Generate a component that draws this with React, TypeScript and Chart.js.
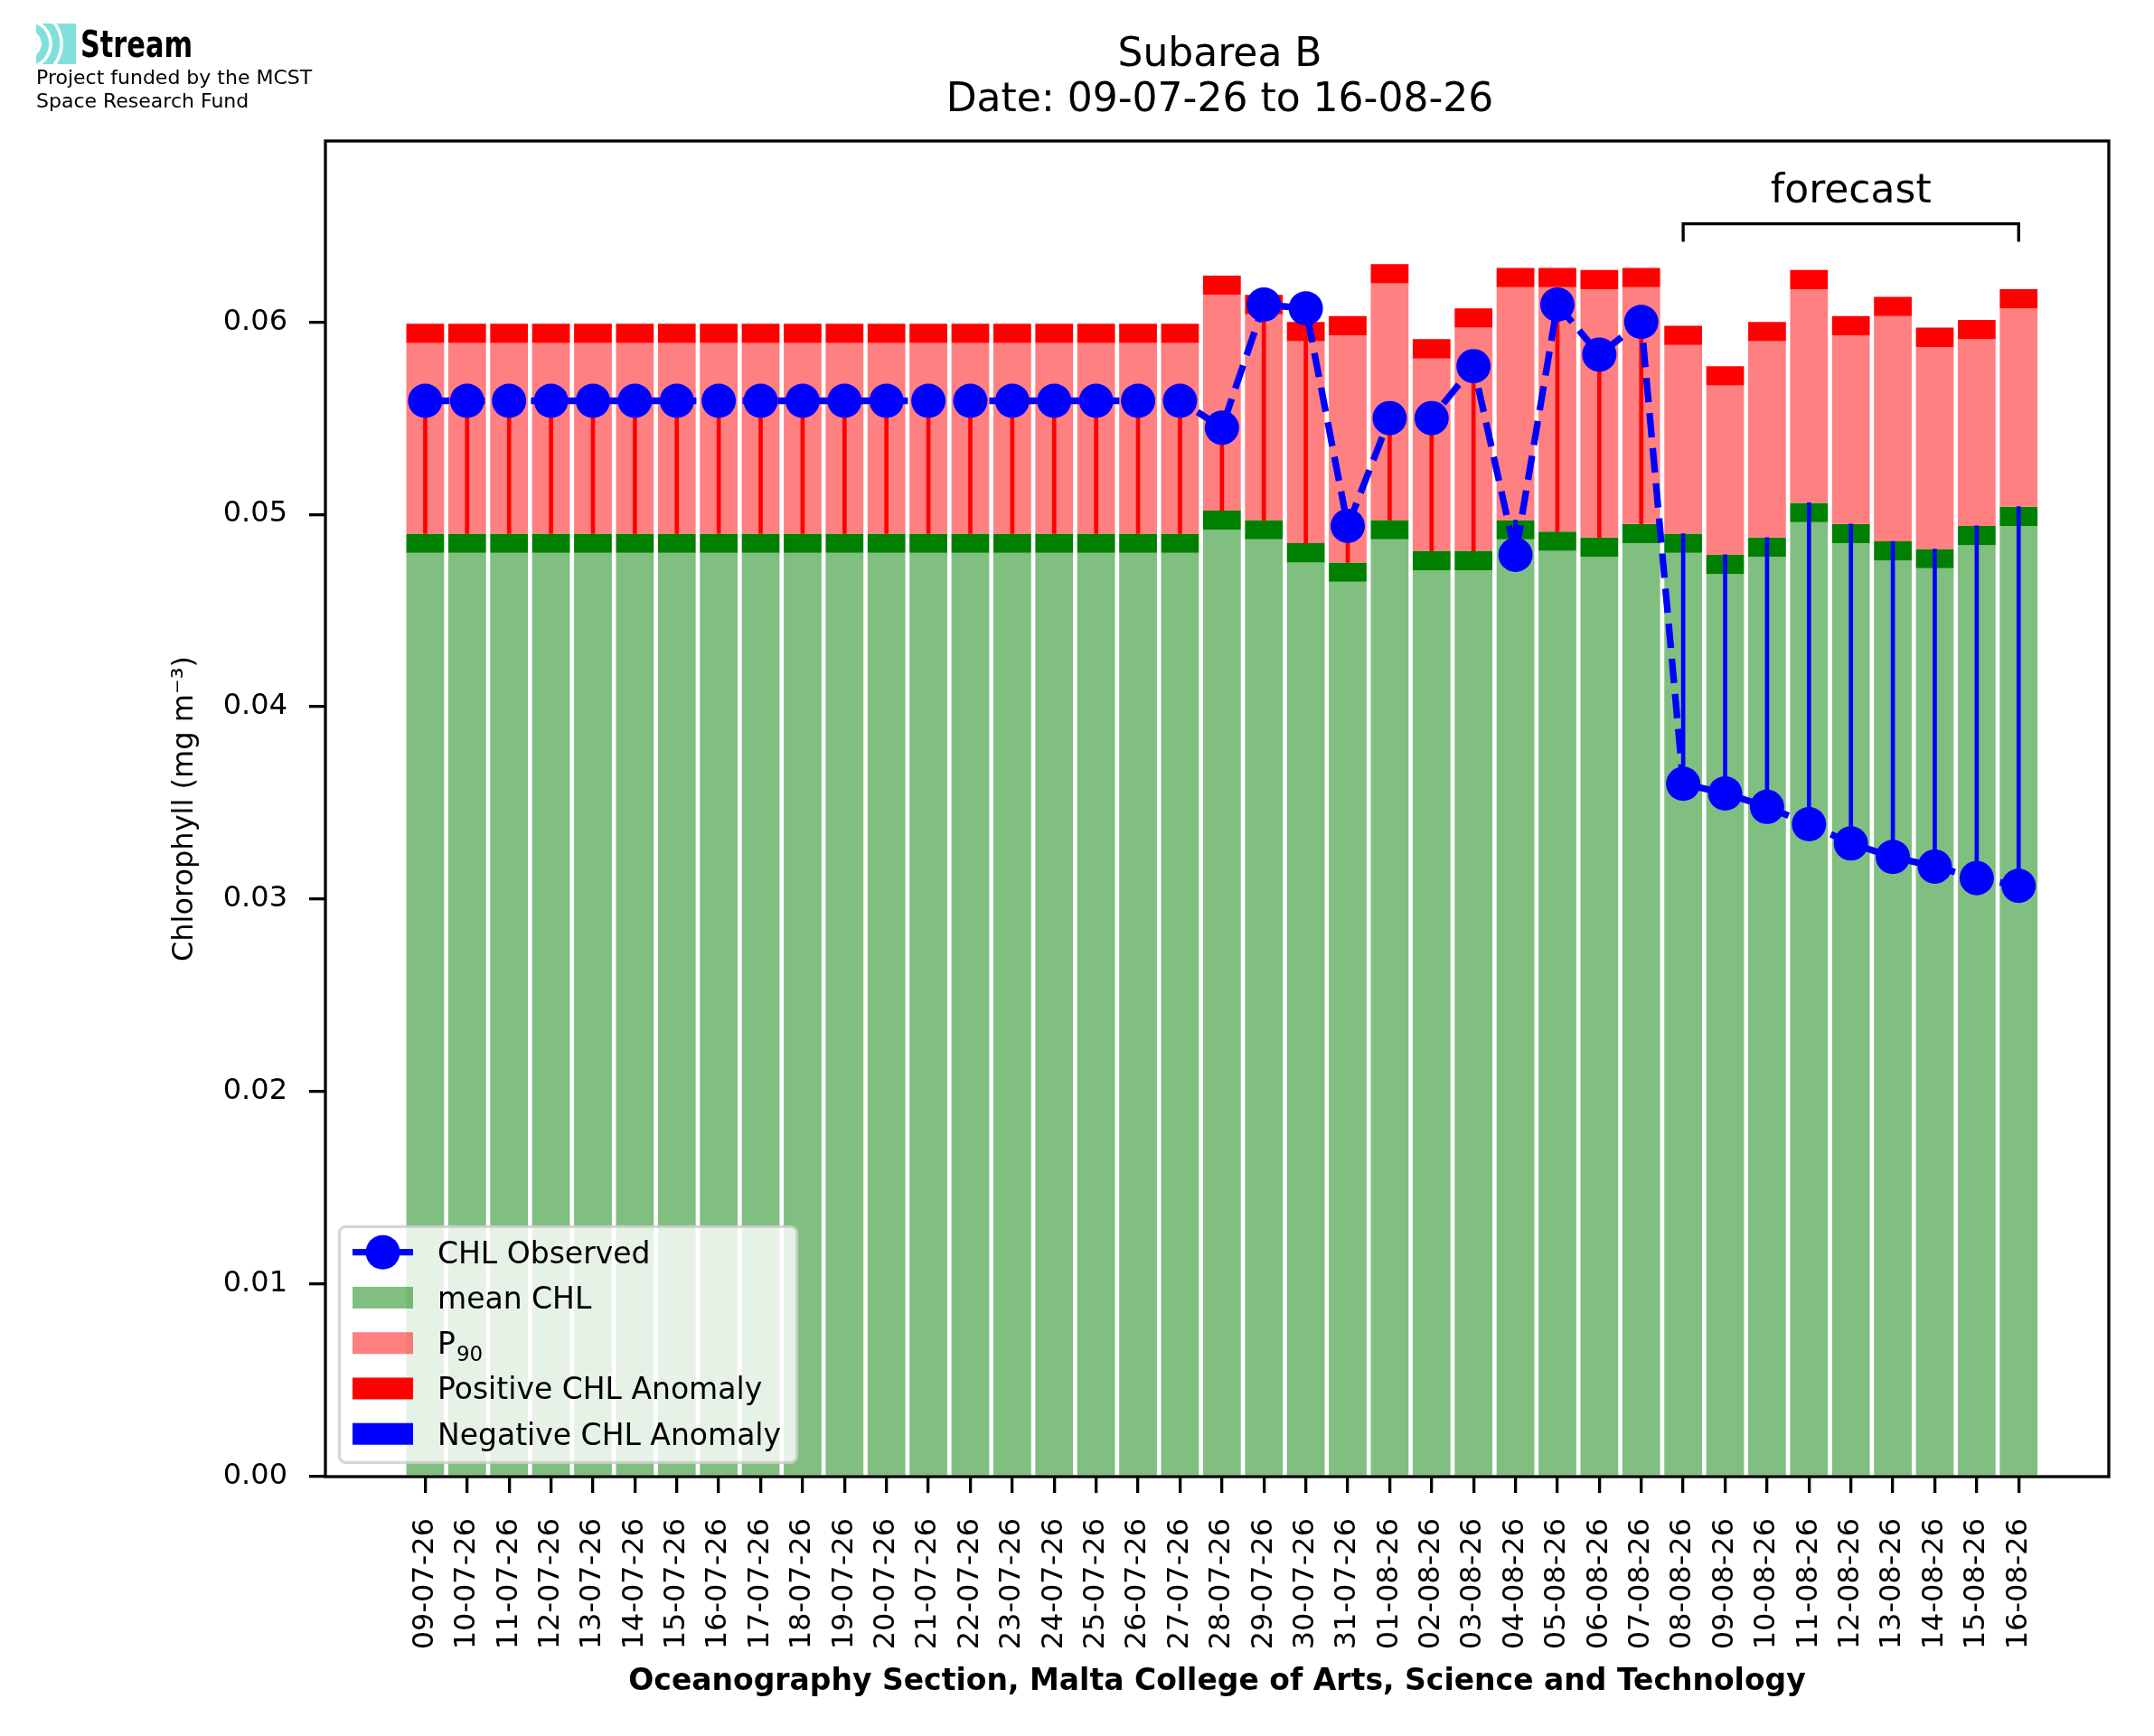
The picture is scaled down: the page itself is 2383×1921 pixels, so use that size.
import { useEffect, useRef } from 'react';
import { Chart, registerables } from 'chart.js';

Chart.register(...registerables);

const FONT = 'DejaVu Sans';

const dates = [
  '09-07-26', '10-07-26', '11-07-26', '12-07-26', '13-07-26', '14-07-26', '15-07-26',
  '16-07-26', '17-07-26', '18-07-26', '19-07-26', '20-07-26', '21-07-26', '22-07-26',
  '23-07-26', '24-07-26', '25-07-26', '26-07-26', '27-07-26', '28-07-26', '29-07-26',
  '30-07-26', '31-07-26', '01-08-26', '02-08-26', '03-08-26', '04-08-26', '05-08-26',
  '06-08-26', '07-08-26', '08-08-26', '09-08-26', '10-08-26', '11-08-26', '12-08-26',
  '13-08-26', '14-08-26', '15-08-26', '16-08-26',
];

// top of the light green bar
const meanChl = [
  0.0480, 0.0480, 0.0480, 0.0480, 0.0480, 0.0480, 0.0480, 0.0480, 0.0480, 0.0480,
  0.0480, 0.0480, 0.0480, 0.0480, 0.0480, 0.0480, 0.0480, 0.0480, 0.0480, 0.0492,
  0.0487, 0.0475, 0.0465, 0.0487, 0.0471, 0.0471, 0.0487, 0.0481, 0.0478, 0.0485,
  0.0480, 0.0469, 0.0478, 0.0496, 0.0485, 0.0476, 0.0472, 0.0484, 0.0494,
];

// top of the light red bar
const p90 = [
  0.0589, 0.0589, 0.0589, 0.0589, 0.0589, 0.0589, 0.0589, 0.0589, 0.0589, 0.0589,
  0.0589, 0.0589, 0.0589, 0.0589, 0.0589, 0.0589, 0.0589, 0.0589, 0.0589, 0.0614,
  0.0604, 0.0590, 0.0593, 0.0620, 0.0581, 0.0597, 0.0618, 0.0618, 0.0617, 0.0618,
  0.0588, 0.0567, 0.0590, 0.0617, 0.0593, 0.0603, 0.0587, 0.0591, 0.0607,
];

const observed = [
  0.0559, 0.0559, 0.0559, 0.0559, 0.0559, 0.0559, 0.0559, 0.0559, 0.0559, 0.0559,
  0.0559, 0.0559, 0.0559, 0.0559, 0.0559, 0.0559, 0.0559, 0.0559, 0.0559, 0.0545,
  0.0609, 0.0607, 0.0494, 0.0550, 0.0550, 0.0577, 0.0479, 0.0609, 0.0583, 0.0600,
  0.0360, 0.0355, 0.0348, 0.0339, 0.0329, 0.0322, 0.0317, 0.0311, 0.0307,
];

// thickness of the dark green / red bands sitting on mean and P90
const BAND = 0.001;
const FORECAST_START = '08-08-26';
const FORECAST_LEVEL = 0.0651;

const legendLabels = [
  { text: 'CHL Observed' },
  { text: 'mean CHL' },
  { text: 'P', sub: '90' },
  { text: 'Positive CHL Anomaly' },
  { text: 'Negative CHL Anomaly' },
];
const titleLines = ['Subarea B', `Date: ${dates[0]} to ${dates[dates.length - 1]}`];
const fundingLines = ['Project funded by the MCST', 'Space Research Fund'];

const threshold = meanChl.map(v => v + BAND);
const floating = (lo: (i: number) => number, hi: (i: number) => number) =>
  dates.map((_, i) => ({ x: i, y: [lo(i), hi(i)] }));

const decorPlugin = {
  id: 'decor',
  afterDatasetsDraw(chart: any) {
    const { ctx, chartArea: a, scales } = chart;
    ctx.save();
    ctx.strokeStyle = '#000';
    ctx.lineWidth = 3.3;
    ctx.strokeRect(a.left, a.top, a.right - a.left, a.bottom - a.top);

    // forecast bracket
    const x1 = scales.x.getPixelForValue(dates.indexOf(FORECAST_START));
    const x2 = scales.x.getPixelForValue(dates.length - 1);
    const y = scales.y.getPixelForValue(FORECAST_LEVEL);
    ctx.beginPath();
    ctx.moveTo(x1, y + 20);
    ctx.lineTo(x1, y);
    ctx.lineTo(x2, y);
    ctx.lineTo(x2, y + 20);
    ctx.stroke();
    ctx.fillStyle = '#000';
    ctx.font = `44px "${FONT}"`;
    ctx.textAlign = 'center';
    ctx.textBaseline = 'alphabetic';
    ctx.fillText('forecast', (x1 + x2) / 2, y - 24);
    ctx.restore();
  },
  afterDraw(chart: any) {
    const { ctx, chartArea: a } = chart;
    ctx.save();

    // title
    ctx.fillStyle = '#000';
    ctx.font = `44px "${FONT}"`;
    ctx.textAlign = 'center';
    ctx.textBaseline = 'alphabetic';
    titleLines.forEach((t, k) => ctx.fillText(t, (a.left + a.right) / 2 + 3, 73 + k * 50));

    // logo
    ctx.save();
    ctx.beginPath();
    ctx.rect(40, 26, 44, 45);
    ctx.clip();
    ctx.fillStyle = '#82e0dc';
    ctx.fillRect(40, 26, 44, 45);
    ctx.strokeStyle = '#fff';
    ctx.lineWidth = 3.5;
    [14, 26, 38].forEach(r => {
      ctx.beginPath();
      ctx.arc(30, 48.5, r, -1.3, 1.3);
      ctx.stroke();
    });
    ctx.fillStyle = '#fff';
    ctx.beginPath();
    ctx.moveTo(40, 43);
    ctx.lineTo(47, 48.5);
    ctx.lineTo(40, 54);
    ctx.closePath();
    ctx.fill();
    ctx.restore();

    ctx.textAlign = 'left';
    ctx.fillStyle = '#000';
    ctx.font = `bold 40px "${FONT}"`;
    const sw = ctx.measureText('Stream').width;
    ctx.save();
    ctx.translate(89, 63);
    ctx.scale(124 / sw, 1);
    ctx.fillText('Stream', 0, 0);
    ctx.restore();
    ctx.font = `22px "${FONT}"`;
    fundingLines.forEach((t, k) => ctx.fillText(t, 40, 93 + k * 26));

    // legend
    const w = 506;
    const h = 261;
    const lx = a.left + 15.5;
    const ly = a.bottom - 15.7 - h;
    ctx.beginPath();
    ctx.roundRect(lx, ly, w, h, 7);
    ctx.fillStyle = 'rgba(255,255,255,0.8)';
    ctx.fill();
    ctx.lineWidth = 3.3;
    ctx.strokeStyle = 'rgba(204,204,204,0.8)';
    ctx.stroke();

    const colors = ['#0000ff', 'rgba(0,128,0,0.5)', 'rgba(255,0,0,0.5)', '#ff0000', '#0000ff'];
    const hx = lx + 14.5;
    const hw = 67;
    legendLabels.forEach((label, k) => {
      const cy = ly + 28.4 + k * 50.25;
      if (k === 0) {
        ctx.strokeStyle = colors[0];
        ctx.lineWidth = 7.3;
        ctx.beginPath();
        ctx.moveTo(hx, cy);
        ctx.lineTo(hx + hw, cy);
        ctx.stroke();
        ctx.fillStyle = colors[0];
        ctx.beginPath();
        ctx.arc(hx + hw / 2, cy, 19, 0, Math.PI * 2);
        ctx.fill();
      } else {
        ctx.fillStyle = colors[k];
        ctx.fillRect(hx, cy - 12, hw, 24);
      }
      ctx.fillStyle = '#000';
      ctx.font = `33px "${FONT}"`;
      const tx = lx + 108.5;
      ctx.fillText(label.text, tx, cy + 12);
      if (label.sub) {
        const pw = ctx.measureText(label.text).width;
        ctx.font = `23px "${FONT}"`;
        ctx.fillText(label.sub, tx + pw + 1, cy + 20);
      }
    });
    ctx.restore();
  },
};

const ChlChart = () => {
  const canvasRef = useRef<HTMLCanvasElement | null>(null);
  const chartRef = useRef<Chart | null>(null);

  useEffect(() => {
    if (!canvasRef.current) return;
    if (chartRef.current) chartRef.current.destroy();

    const axisGrid = {
      display: true,
      drawOnChartArea: false,
      drawTicks: true,
      offset: false,
      tickLength: 18,
      color: '#000',
      lineWidth: 3.3,
    };

    chartRef.current = new Chart(canvasRef.current, {
      type: 'bar',
      data: {
        datasets: [
          {
            type: 'line',
            label: 'CHL Observed',
            data: dates.map((_, i) => ({ x: i, y: observed[i] })),
            borderColor: '#0000ff',
            backgroundColor: '#0000ff',
            borderWidth: 7.3,
            borderDash: [27, 12],
            borderCapStyle: 'butt',
            borderJoinStyle: 'round',
            pointRadius: 19,
            pointBorderWidth: 0,
            pointBackgroundColor: '#0000ff',
            tension: 0,
            order: 0,
          },
          {
            label: 'Positive CHL Anomaly',
            data: dates
              .map((_, i) => ({ x: i, y: [threshold[i], observed[i]] }))
              .filter((_, i) => observed[i] >= threshold[i]),
            backgroundColor: '#ff0000',
            barThickness: 4,
            grouped: false,
            order: 1,
          },
          {
            label: 'Negative CHL Anomaly',
            data: dates
              .map((_, i) => ({ x: i, y: [observed[i], threshold[i]] }))
              .filter((_, i) => observed[i] < threshold[i]),
            backgroundColor: '#0000ff',
            barThickness: 4,
            grouped: false,
            order: 1,
          },
          {
            label: 'P90 band',
            data: floating(i => p90[i], i => p90[i] + BAND),
            backgroundColor: '#ff0000',
            grouped: false,
            order: 2,
          },
          {
            label: 'P90',
            data: floating(i => threshold[i], i => p90[i]),
            backgroundColor: '#ff8080',
            grouped: false,
            order: 3,
          },
          {
            label: 'mean band',
            data: floating(i => meanChl[i], i => threshold[i]),
            backgroundColor: '#008000',
            grouped: false,
            order: 4,
          },
          {
            label: 'mean CHL',
            data: floating(() => 0, i => meanChl[i]),
            backgroundColor: '#80bf80',
            grouped: false,
            order: 5,
          },
        ] as any,
      },
      options: {
        responsive: false,
        animation: false,
        devicePixelRatio: 1,
        datasets: {
          bar: { barPercentage: 0.9, categoryPercentage: 1, borderWidth: 0 },
        },
        layout: { padding: { top: 156, right: 50, left: 0, bottom: 0 } },
        plugins: {
          legend: { display: false },
          tooltip: { enabled: false },
        },
        scales: {
          x: {
            type: 'linear',
            offset: false,
            min: -2.38,
            max: 40.15,
            afterBuildTicks: (scale: any) => {
              scale.ticks = dates.map((_, i) => ({ value: i }));
            },
            afterFit: (scale: any) => {
              scale.height = 287;
            },
            ticks: {
              autoSkip: false,
              maxRotation: 90,
              minRotation: 90,
              padding: 28,
              color: '#000',
              font: { family: FONT, size: 32 },
              callback: (v: any) => dates[v] ?? '',
            },
            grid: axisGrid,
            border: { display: false },
            title: {
              display: true,
              text: 'Oceanography Section, Malta College of Arts, Science and Technology',
              color: '#000',
              font: { family: FONT, size: 33, weight: 'bold' },
              padding: { top: 0, bottom: 40 },
            },
          },
          y: {
            min: 0,
            max: 0.0694,
            afterFit: (scale: any) => {
              scale.width = 360;
            },
            ticks: {
              stepSize: 0.01,
              includeBounds: false,
              padding: 24,
              color: '#000',
              font: { family: FONT, size: 32 },
              callback: (v: any) => Number(v).toFixed(2),
            },
            grid: axisGrid,
            border: { display: false },
            title: {
              display: true,
              text: 'Chlorophyll (mg m⁻³)',
              color: '#000',
              font: { family: FONT, size: 32 },
              padding: { top: 185, bottom: 0 },
            },
          },
        },
      } as any,
      plugins: [decorPlugin],
    });

    return () => {
      if (chartRef.current) {
        chartRef.current.destroy();
        chartRef.current = null;
      }
    };
  }, []);

  return <canvas ref={canvasRef} width={2383} height={1921} />;
};

export default function App() {
  return (
    <div style={{ position: 'absolute', left: 0, top: 0, width: 2383, height: 1921, background: '#fff' }}>
      <ChlChart />
    </div>
  );
}
